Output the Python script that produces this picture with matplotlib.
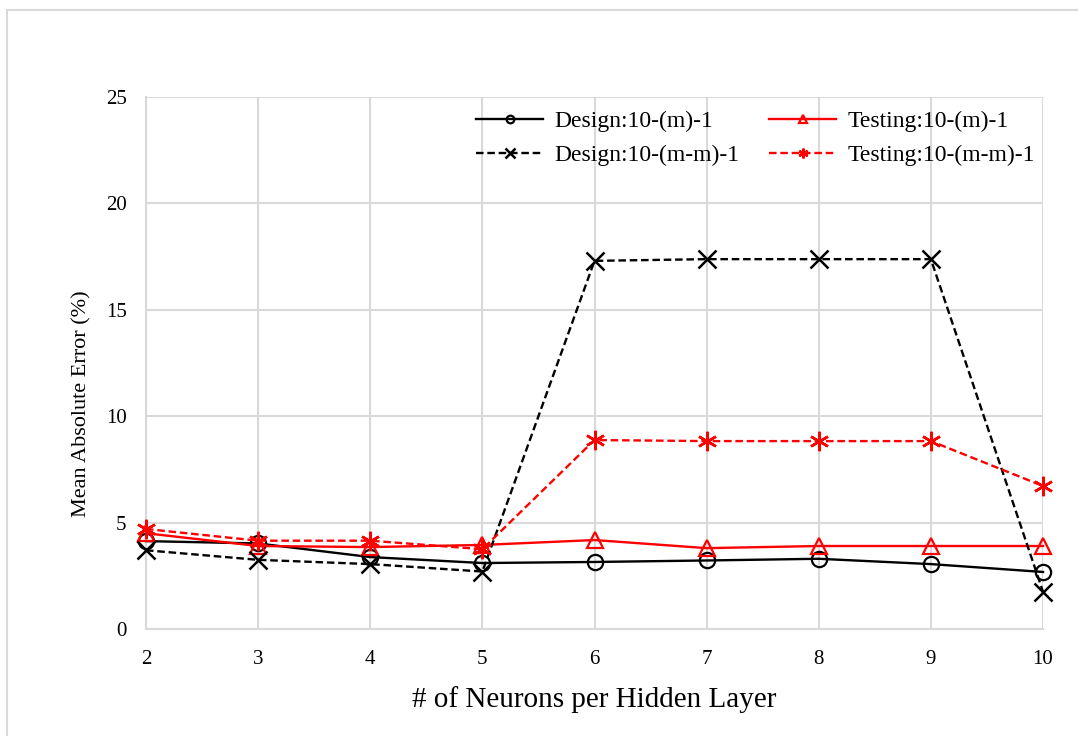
import matplotlib
matplotlib.use("Agg")
import matplotlib.pyplot as plt
from matplotlib.patches import Rectangle

plt.rcParams['font.family'] = ['Liberation Serif', 'DejaVu Serif']

neurons = [2, 3, 4, 5, 6, 7, 8, 9, 10]
design_m = [4.13, 4.02, 3.38, 3.10, 3.15, 3.22, 3.30, 3.05, 2.68]
testing_m = [4.50, 3.90, 3.85, 3.95, 4.18, 3.80, 3.90, 3.90, 3.90]
design_mm = [3.70, 3.25, 3.05, 2.70, 17.30, 17.38, 17.38, 17.38, 1.75]
testing_mm = [4.70, 4.15, 4.15, 3.75, 8.88, 8.83, 8.83, 8.83, 6.72]

x_ticks = [2, 3, 4, 5, 6, 7, 8, 9, 10]
y_ticks = [0, 5, 10, 15, 20, 25]

W, H = 1078, 736
fig = plt.figure(figsize=(W / 100, H / 100), dpi=100)
ax = fig.add_axes([146 / W, 1 - 629 / H, (1043 - 146) / W, (629 - 97) / H])

# outer chart border
fig.patches.append(Rectangle((7 / W, -0.1), 1.2, 1 - 10 / H + 0.1,
                             transform=fig.transFigure, fill=False,
                             edgecolor='#d9d9d9', lw=1.5))

dash = (3.2, 1.6)
common = dict(lw=1.7, clip_on=False, zorder=3)
ax.plot(neurons, design_m, color='black', marker='o', ms=11,
        mfc='none', mew=1.6, label='Design:10-(m)-1', **common)
ax.plot(neurons, testing_m, color='red', marker='^', ms=12,
        mfc='none', mew=1.6, label='Testing:10-(m)-1', **common)
ax.plot(neurons, design_mm, color='black', ls=(0, dash), marker='x',
        ms=13, mew=1.8, label='Design:10-(m-m)-1', **common)
ax.plot(neurons, testing_mm, color='red', ls=(0, dash), marker=(6, 2, 0),
        ms=14, mew=1.8, label='Testing:10-(m-m)-1', **common)

ax.set_xlim(2, 10)
ax.set_ylim(0, 25)
ax.set_xticks(x_ticks)
ax.set_yticks(y_ticks)
ax.grid(True, color='#d9d9d9', lw=1.5)
ax.set_axisbelow(True)
for side in ['top', 'right']:
    ax.spines[side].set_visible(False)
for side in ['left', 'bottom']:
    ax.spines[side].set_color('#d9d9d9')
    ax.spines[side].set_linewidth(1.5)
ax.tick_params(length=0, labelsize=15)
ax.tick_params(axis='x', pad=15)
ax.tick_params(axis='y', pad=14)

ax.set_xlabel('# of Neurons per Hidden Layer', fontsize=21)
ax.set_ylabel('Mean Absolute Error (%)', fontsize=16)
ax.xaxis.set_label_coords(0.5, -0.108)
ax.yaxis.set_label_coords(-0.061, 0.423)

handles, labels = ax.get_legend_handles_labels()
order = [0, 2, 1, 3]
leg = ax.legend([handles[i] for i in order], [labels[i] for i in order],
                ncol=2, loc='upper left', bbox_to_anchor=(0.368, 0.975),
                borderaxespad=0, borderpad=0,
                frameon=False, fontsize=17, handlelength=2.84, markerscale=0.5,
                columnspacing=1.27, handletextpad=0.47, labelspacing=0.55)

fig.savefig('out.png', dpi=100, facecolor='white')
